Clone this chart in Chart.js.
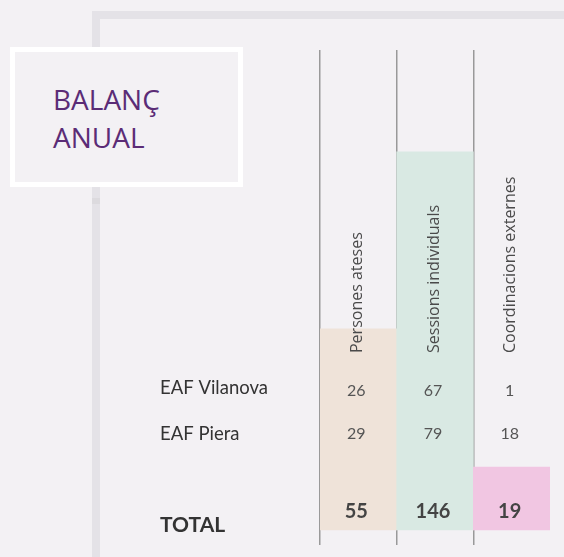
<!DOCTYPE html>
<html>
<head>
<meta charset="utf-8">
<script src="https://cdn.jsdelivr.net/npm/chart.js@4/dist/chart.umd.min.js"></script>
<style>
    html, body { margin: 0; padding: 0; background: #f3f1f4; }
    #wrap { position: relative; width: 564px; height: 557px; overflow: hidden; }
    .frameH { position: absolute; left: 92px; top: 11px; width: 472px; height: 8px; background: #e4e2e7; }
    .frameV { position: absolute; left: 92px; top: 11px; width: 8px; height: 546px; background: #e4e2e7; }
    .frameMark { position: absolute; left: 92px; top: 198px; width: 8px; height: 6px; background: #dcdade; }
    .titleBox { position: absolute; left: 10px; top: 47px; width: 223px; height: 130px; border: 5px solid #fff; background: #f3f1f4; }
    .titleBox div { position: absolute; left: 38px; top: 28px; font: 28px/38px "Open Sans"; color: #5b2c76; }
    #chart { position: absolute; left: 0; top: 0; }
</style>
</head>
<body>
<div id="wrap">
    <div class="frameH"></div>
    <div class="frameV"></div>
    <div class="frameMark"></div>
    <div class="titleBox"><div>BALANÇ<br>ANUAL</div></div>
    <canvas id="chart" width="564" height="557"></canvas>
</div>
<script>
const columns = ['Persones ateses', 'Sessions individuals', 'Coordinacions externes'];
const rowNames = ['EAF Vilanova', 'EAF Piera'];
const vilanova = [26, 67, 1];
const piera = [29, 79, 18];
const totals = [55, 146, 19];
// height of the shaded columns (% of the ruled lines)
const columnLevels = [41.9, 78.8, 13.1];
const columnColors = ['#efe3d9', '#d9e9e3', '#f1c6e2'];

// texts of the table: headers, row names, values
const tableText = {
    id: 'tableText',
    afterDraw(chart) {
        const ctx = chart.ctx;
        const xs = chart.scales.x;
        ctx.save();

        columns.forEach((name, i) => {
            const x = xs.getPixelForValue(i);
            ctx.save();
            ctx.translate(x - 1, 353);
            ctx.rotate(-Math.PI / 2);
            ctx.font = '16px "Open Sans"';
            ctx.fillStyle = '#4a4a4a';
            ctx.textAlign = 'left';
            ctx.textBaseline = 'middle';
            ctx.fillText(name, 0, 0);
            ctx.restore();
        });

        ctx.textBaseline = 'alphabetic';
        ctx.textAlign = 'left';
        ctx.fillStyle = '#333';
        ctx.font = '18.5px Lato';
        ctx.fillText(rowNames[0], 160, 394);
        ctx.fillText(rowNames[1], 160, 440);
        ctx.font = 'bold 21px Lato';
        ctx.fillText('TOTAL', 160, 532);

        ctx.textAlign = 'center';
        for (let i = 0; i < columns.length; i++) {
            const x = xs.getPixelForValue(i) - 2;
            ctx.font = '16px Lato';
            ctx.fillStyle = '#555';
            ctx.fillText(vilanova[i], x, 396);
            ctx.fillText(piera[i], x, 439);
            ctx.font = 'bold 20px Lato';
            ctx.fillStyle = '#444';
            ctx.fillText(totals[i], x, 518);
        }
        ctx.restore();
    }
};

new Chart(document.getElementById('chart').getContext('2d'), {
    type: 'bar',
    data: {
        labels: columns,
        datasets: [{
            data: columnLevels,
            backgroundColor: columnColors,
            borderWidth: 0,
            barPercentage: 1,
            categoryPercentage: 1
        }]
    },
    options: {
        responsive: false,
        animation: false,
        devicePixelRatio: 1,
        layout: { padding: { left: 320, top: 50, right: 14, bottom: 12 } },
        plugins: { legend: { display: false }, tooltip: { enabled: false } },
        scales: {
            x: {
                display: true,
                ticks: { display: false },
                border: { display: false },
                grid: {
                    offset: true,
                    drawTicks: false,
                    lineWidth: 1.5,
                    color: ctx => ctx.type === 'tick' ? '#999' : 'transparent'
                }
            },
            y: { display: false, min: -3.125, max: 100 }
        }
    },
    plugins: [tableText]
});
</script>
</body>
</html>
